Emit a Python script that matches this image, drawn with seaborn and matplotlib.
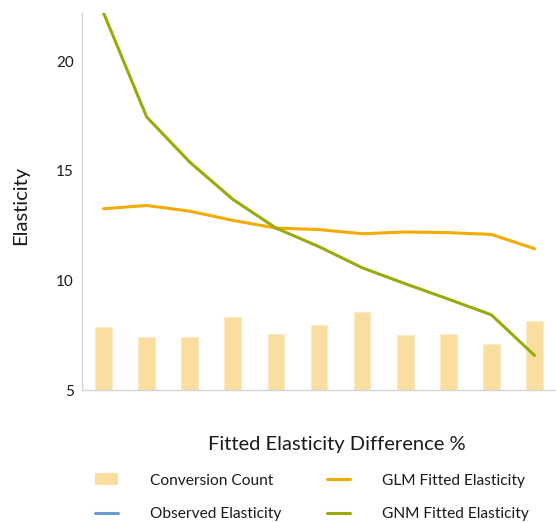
import matplotlib
matplotlib.use("Agg")
import matplotlib.pyplot as plt
from matplotlib.lines import Line2D
from matplotlib.patches import Patch
import numpy as np
import pandas as pd
import seaborn as sns

sns.set_style("white")
plt.rcParams["font.family"] = ["Lato", "DejaVu Sans"]
plt.rcParams["text.color"] = "#1A1A1A"
plt.rcParams["axes.labelcolor"] = "#1A1A1A"
plt.rcParams["ytick.color"] = "#1A1A1A"

# data
bins = list(range(11))
conversion_count = [2.87, 2.41, 2.40, 3.32, 2.57, 2.95, 3.54, 2.49, 2.55, 2.12, 3.17]
glm_fitted = [13.27, 13.42, 13.16, 12.74, 12.39, 12.32, 12.13, 12.21, 12.18, 12.10, 11.45]
gnm_fitted = [22.21, 17.46, 15.40, 13.70, 12.39, 11.54, 10.58, 9.85, 9.15, 8.43, 6.58]
yticks = [5, 10, 15, 20]

bar_color = "#F9DEA0"
glm_color = "#F5AA00"
gnm_color = "#9AAA0A"
obs_color = "#6F9BD4"

df = pd.DataFrame({"bin": bins, "count": conversion_count,
                   "glm": glm_fitted, "gnm": gnm_fitted})

fig = plt.figure(figsize=(5.56, 5.23), dpi=100)
ax = fig.add_axes([0.1475, 0.2543, 0.8525, 0.7207])
ax2 = ax.twinx()

# bars on the twin axis, lines on top
sns.barplot(data=df, x="bin", y="count", ax=ax2, color=bar_color,
            width=0.39, saturation=1, edgecolor="#FCEBC6", linewidth=0.8)
ax2.set_ylim(0, 17.2)
ax2.set_yticks([])
ax2.set_ylabel("")
for s in ax2.spines.values():
    s.set_visible(False)

sns.lineplot(data=df, x="bin", y="glm", ax=ax, color=glm_color, linewidth=2.2)
sns.lineplot(data=df, x="bin", y="gnm", ax=ax, color=gnm_color, linewidth=2.2)

ax.set_zorder(ax2.get_zorder() + 1)
ax.patch.set_visible(False)

ax.set_xlim(-0.5, 10.5)
ax2.set_xlim(-0.5, 10.5)
ax.set_ylim(5, 22.2)
ax.set_yticks(yticks)
ax.set_xticks([])
ax.tick_params(axis="y", length=0, pad=6, labelsize=11)
for s in ["top", "right"]:
    ax.spines[s].set_visible(False)
for s in ["left", "bottom"]:
    ax.spines[s].set_color("#D4D4D4")
    ax.spines[s].set_linewidth(1)

ax.set_ylabel("Elasticity", fontsize=14.5)
ax.yaxis.set_label_coords(-0.112, 0.49)
ax.set_xlabel("Fitted Elasticity Difference %", fontsize=14.5)
ax.xaxis.set_label_coords(0.538, -0.123)

handles = [
    Patch(facecolor=bar_color, edgecolor="none"),
    Line2D([], [], color=obs_color, linewidth=2.2),
    Line2D([], [], color=glm_color, linewidth=2.2),
    Line2D([], [], color=gnm_color, linewidth=2.2),
]
labels = ["Conversion Count", "Observed Elasticity",
          "GLM Fitted Elasticity", "GNM Fitted Elasticity"]
fig.legend(handles, labels, ncol=2, loc="upper left",
           bbox_to_anchor=(0.171, 0.095), frameon=False, fontsize=11.2,
           borderpad=0, borderaxespad=0, handlelength=1.48, handleheight=0.8,
           handletextpad=2.06, columnspacing=2.9, labelspacing=1.25)

fig.savefig("out.png", dpi=100)
